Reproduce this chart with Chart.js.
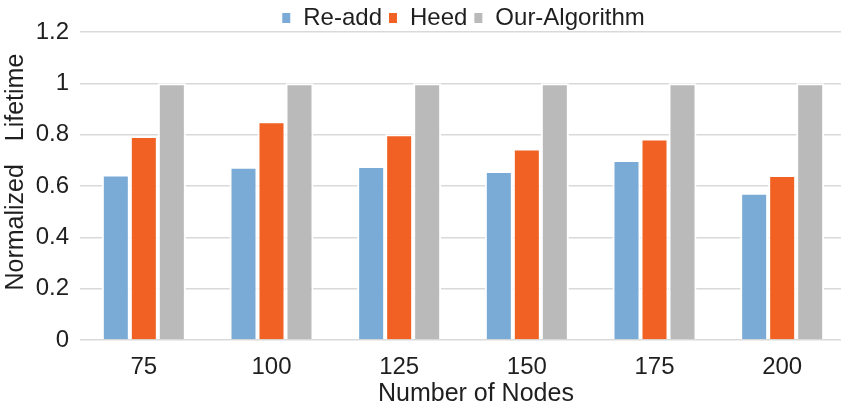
<!DOCTYPE html>
<html>
<head>
<meta charset="utf-8">
<script src="https://cdn.jsdelivr.net/npm/chart.js@4/dist/chart.umd.min.js"></script>
<style>
  html, body { margin: 0; padding: 0; background: #fff; overflow: hidden; }
  canvas { display: block; }
</style>
</head>
<body>
<canvas id="lifetimeChart" width="846" height="408"></canvas>
<script>
// valori
const nodes = ['75', '100', '125', '150', '175', '200'];
const reAdd = [0.645, 0.675, 0.678, 0.658, 0.701, 0.574];
const heed = [0.795, 0.852, 0.802, 0.746, 0.785, 0.643];
const ourAlgorithm = [1, 1, 1, 1, 1, 1];
const yTicks = [0, 0.2, 0.4, 0.6, 0.8, 1, 1.2];

const txt = '#1f1f1f';
const fam = '"Liberation Sans", Arial, sans-serif';

new Chart(document.getElementById('lifetimeChart'), {
    type: 'bar',
    data: {
        labels: nodes,
        datasets: [
            { label: 'Re-add', data: reAdd, backgroundColor: '#7aabd7' },
            { label: 'Heed', data: heed, backgroundColor: '#f06123' },
            { label: 'Our-Algorithm', data: ourAlgorithm, backgroundColor: '#bababa' }
        ]
    },
    options: {
        responsive: false,
        animation: false,
        layout: { padding: 0 },
        datasets: {
            bar: {
                categoryPercentage: 0.658,
                barPercentage: 1,
                borderColor: '#ffffff',
                borderWidth: 2
            }
        },
        plugins: {
            legend: {
                position: 'top',
                fullSize: false,
                maxHeight: 32,
                labels: {
                    boxWidth: 10, boxHeight: 12, padding: 6,
                    color: txt, font: { family: fam, size: 24 }
                }
            },
            tooltip: { enabled: false }
        },
        scales: {
            x: {
                afterFit: axis => { axis.height = 68; },
                grid: { display: false, drawTicks: false },
                border: { display: false },
                ticks: { color: txt, padding: 13, font: { family: fam, size: 24 } },
                title: {
                    display: true, text: '   \u2009Number of Nodes', color: txt,
                    padding: { top: 0, bottom: 1 }, font: { family: fam, size: 25, lineHeight: 1 }
                }
            },
            y: {
                min: 0, max: 1.2,
                afterFit: axis => { axis.width = 80; },
                afterBuildTicks: axis => { axis.ticks = yTicks.map(v => ({ value: v })); },
                grid: { color: '#d9d9d9', lineWidth: 1.5, drawTicks: false },
                border: { display: false },
                ticks: { color: txt, padding: 11, font: { family: fam, size: 24 },
                         callback: v => String(v) },
                title: {
                    display: true, text: '    Normalized   \u200aLifetime', color: txt,
                    padding: { top: 1, bottom: 4 }, font: { family: fam, size: 25 }
                }
            }
        }
    }
});
</script>
</body>
</html>
